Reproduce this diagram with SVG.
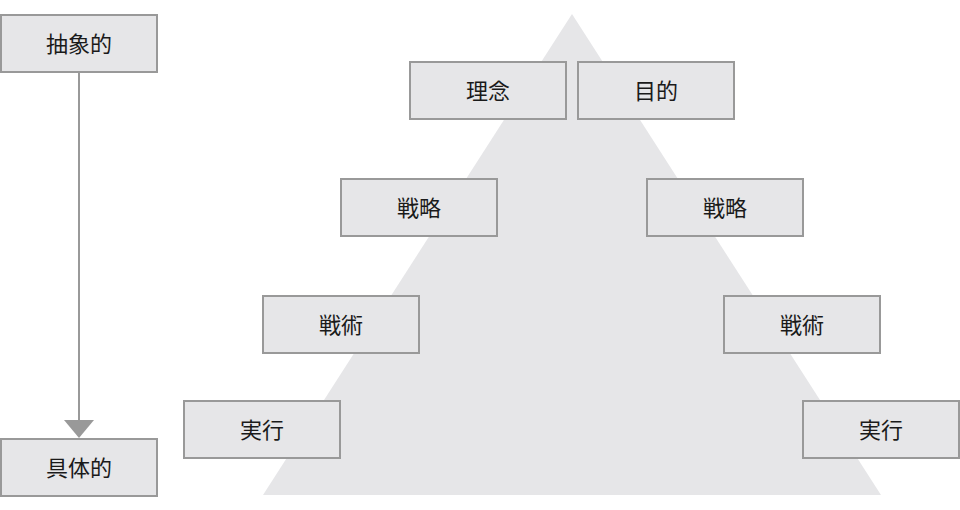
<svg xmlns="http://www.w3.org/2000/svg" width="960" height="510" viewBox="0 0 960 510">
<style>
.box rect{fill:#e6e6e8;stroke:#999;stroke-width:2}
.box text{font-family:"Noto Sans CJK JP","Noto Sans CJK SC",sans-serif;font-size:22px;fill:#1a1a1a;text-anchor:middle;dominant-baseline:central}
.conn{stroke:#999;stroke-width:2;fill:none}
.head{fill:#999}
</style>
<rect width="960" height="510" fill="#fff"/>
<polygon id="pyramid" points="572,14 881,495 263,495" fill="#e6e6e8"/>
<g id="connectors">
<path class="conn" d="M79,72 L79,420"/>
<polygon class="head" points="64,420 94,420 79,438"/>
</g>
<g id="n-abstract" class="box"><rect x="1" y="15" width="156" height="57"/><text x="79" y="42">抽象的</text></g>
<g id="n-concrete" class="box"><rect x="1" y="439" width="156" height="57"/><text x="79" y="466">具体的</text></g>
<g id="n-rinen" class="box"><rect x="410" y="62" width="156" height="57"/><text x="488" y="89">理念</text></g>
<g id="n-mokuteki" class="box"><rect x="578" y="62" width="156" height="57"/><text x="656" y="89">目的</text></g>
<g id="n-senryaku-l" class="box"><rect x="341" y="179" width="156" height="57"/><text x="419" y="206">戦略</text></g>
<g id="n-senryaku-r" class="box"><rect x="647" y="179" width="156" height="57"/><text x="725" y="206">戦略</text></g>
<g id="n-senjutsu-l" class="box"><rect x="263" y="296" width="156" height="57"/><text x="341" y="323">戦術</text></g>
<g id="n-senjutsu-r" class="box"><rect x="724" y="296" width="156" height="57"/><text x="802" y="323">戦術</text></g>
<g id="n-jikko-l" class="box"><rect x="184" y="401" width="156" height="57"/><text x="262" y="428">実行</text></g>
<g id="n-jikko-r" class="box"><rect x="803" y="401" width="156" height="57"/><text x="881" y="428">実行</text></g>
</svg>
